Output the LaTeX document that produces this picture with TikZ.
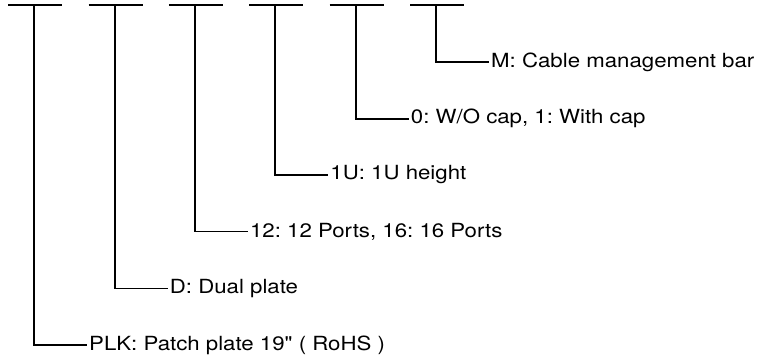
\documentclass[tikz,border=0pt]{standalone}
\usepackage{graphicx}
\usepackage{fontspec}
\setmainfont{TeX Gyre Heros}[Ligatures=TeXOff]
\frenchspacing
\begin{document}
\begin{tikzpicture}[x=1pt,y=-1pt,
  wire/.style={line width=1.8pt},
  lbl/.style={anchor=west,inner sep=0pt,font=\fontsize{19.5}{21}\selectfont}]
\useasboundingbox (0,0) rectangle (766,354);
\foreach \i/\vx/\ly/\txt in {
  0/34/345/{PLK: Patch plate 19" ( RoHS )},
  1/114.7/288.4/{D: Dual plate},
  2/194.9/231.5/{12: 12 Ports, 16: 16 Ports},
  3/275.2/174.7/{1U: 1U height},
  4/355.7/118.6/{0: W/O cap, 1: With cap},
  5/436/62/{M: Cable management bar}} {
  \coordinate (d\i l) at (\vx-26,5);
  \coordinate (d\i r) at (\vx+28,5);
  \coordinate (t\i) at (\vx,5);
  \coordinate (b\i) at (\vx,\ly);
  \coordinate (e\i) at (\vx+53,\ly);
  \node[lbl] (n\i) at (\vx+55,\ly) {\scalebox{1.14}[1]{\txt}};
  \draw[wire] (d\i l) -- (d\i r);
  \draw[wire] (t\i) -- (b\i) -- (e\i);
}
\end{tikzpicture}
\end{document}
